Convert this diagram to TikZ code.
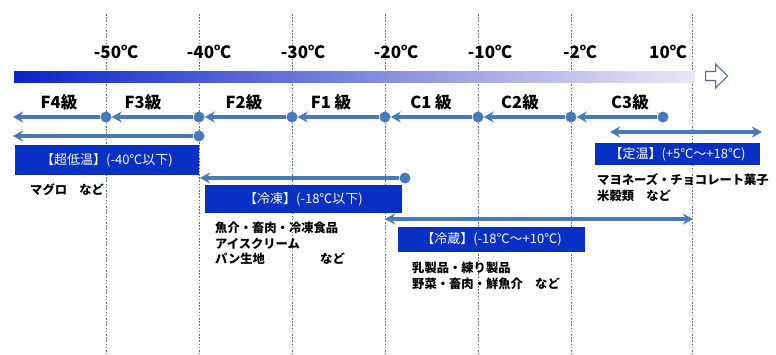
\documentclass[tikz,border=0pt]{standalone}
\usepackage{fontspec}
\setmainfont{Noto Sans CJK JP}
\usetikzlibrary{arrows.meta,shapes.arrows}
\definecolor{arrowblue}{RGB}{70,122,184}
\definecolor{boxblue}{RGB}{8,48,196}
\definecolor{gridcol}{RGB}{95,115,160}
\definecolor{barL}{RGB}{8,38,196}
\definecolor{barM}{RGB}{35,85,205}
\definecolor{barR}{RGB}{238,230,246}
\definecolor{hollowcol}{RGB}{85,105,160}
\tikzset{
  gridline/.style={gridcol, dash pattern=on 1.6pt off 1.6pt, line width=0.8pt},
  templabel/.style={font=\fontsize{17}{17}\selectfont\bfseries, inner sep=0pt},
  gradelabel/.style={font=\fontsize{16.5}{16.5}\selectfont\bfseries, inner sep=0pt},
  dotnode/.style={circle, fill=arrowblue, minimum size=11pt, inner sep=0pt},
  arr/.style={arrowblue, line width=3.2pt, -{Stealth[length=10pt,width=11pt]}},
  darr/.style={arrowblue, line width=3.2pt, {Stealth[length=10pt,width=11pt]}-{Stealth[length=10pt,width=11pt]}},
  bluebox/.style={fill=boxblue, text=white, inner sep=0pt, font=\fontsize{13}{13}\selectfont},
  itemtext/.style={font=\fontsize{12.3}{12.3}\selectfont\bfseries, inner sep=0pt, anchor=west},
}
\begin{document}
\begin{tikzpicture}[x=1pt,y=-1pt]
\useasboundingbox[fill=white] (0,0) rectangle (776,354);
% dashed grid lines
\foreach \n/\x in {a/106,b/199,c/292,d/385,e/478,f/571,g/692}{
  \coordinate (t\n) at (\x,14);
  \coordinate (b\n) at (\x,354);
  \draw[gridline] (t\n) -- (b\n);
}
% temperature labels
\node[templabel] (l50) at (116,52) {-50℃};
\node[templabel] (l40) at (209,52) {-40℃};
\node[templabel] (l30) at (303,52) {-30℃};
\node[templabel] (l20) at (396,52) {-20℃};
\node[templabel] (l10) at (490,52) {-10℃};
\node[templabel] (l2) at (580,52) {-2℃};
\node[templabel] (lp10) at (668,52) {10℃};
% gradient bar
\node[left color=barL, middle color=barM, right color=barR, minimum width=681pt, minimum height=11pt, inner sep=0pt, anchor=west] (bar) at (14,77) {};
\node[single arrow, draw=hollowcol, fill=white, line width=1.1pt, minimum width=24pt, minimum height=22pt, single arrow head extend=6pt, single arrow head indent=0pt, inner sep=3pt, anchor=west] (hollow) at (705,76) {};
% grade labels
\node[gradelabel] (g1) at (59,102) {F4級};
\node[gradelabel] (g2) at (143,102) {F3級};
\node[gradelabel] (g3) at (244,102) {F2級};
\node[gradelabel] (g4) at (331,102) {F1 級};
\node[gradelabel] (g5) at (431,102) {C1 級};
\node[gradelabel] (g6) at (520,102) {C2級};
\node[gradelabel] (g7) at (630,102) {C3級};
% row 1 arrows
\coordinate (r1s) at (13,117);
\foreach \n/\x in {a/106,b/199,c/292,d/385,e/478,f/571,g/663}{
  \node[dotnode] (r1\n) at (\x,117) {};
}
\draw[arr] (r1a) -- (r1s);
\draw[arr] (r1b) -- (r1a);
\draw[arr] (r1c) -- (r1b);
\draw[arr] (r1d) -- (r1c);
\draw[arr] (r1e) -- (r1d);
\draw[arr] (r1f) -- (r1e);
\draw[arr] (r1g) -- (r1f);
% row 2 arrow
\coordinate (r2s) at (13,136);
\node[dotnode] (r2b) at (199,136) {};
\draw[arr] (r2b) -- (r2s);
% frozen arrow
\coordinate (fzs) at (200,178);
\node[dotnode] (fzd) at (405,178) {};
\draw[arr] (fzd) -- (fzs);
% chilled arrow
\coordinate (rfs) at (385,219);
\coordinate (rfe) at (693,219);
\draw[darr] (rfs) -- (rfe);
% constant temp arrow
\coordinate (cts) at (610,132);
\coordinate (cte) at (762,132);
\draw[darr] (cts) -- (cte);
% boxes
\node[bluebox, minimum width=184pt, minimum height=30pt] (ultra) at (107,160) {【超低温】(-40℃以下)};
\node[bluebox, minimum width=197pt, minimum height=28pt] (frozen) at (303.5,199) {【冷凍】(-18℃以下)};
\node[bluebox, minimum width=187pt, minimum height=25pt] (chilled) at (491.5,239.5) {【冷蔵】(-18℃～+10℃)};
\node[bluebox, minimum width=165pt, minimum height=22pt] (const) at (677.5,154) {【定温】(+5℃～+18℃)};
% items
\node[itemtext] (i1) at (30,190) {マグロ　など};
\node[itemtext] (i2) at (215,228) {魚介・畜肉・冷凍食品};
\node[itemtext] (i3) at (215,244) {アイスクリーム};
\node[itemtext] (i4) at (215,259) {\makebox[105pt][l]{パン生地}など};
\node[itemtext] (i5) at (412,268) {乳製品・練り製品};
\node[itemtext] (i6) at (412,284) {野菜・畜肉・鮮魚介　など};
\node[itemtext] (i7) at (597,180) {マヨネーズ・チョコレート菓子};
\node[itemtext] (i8) at (597,196) {米穀類　など};
\end{tikzpicture}
\end{document}
